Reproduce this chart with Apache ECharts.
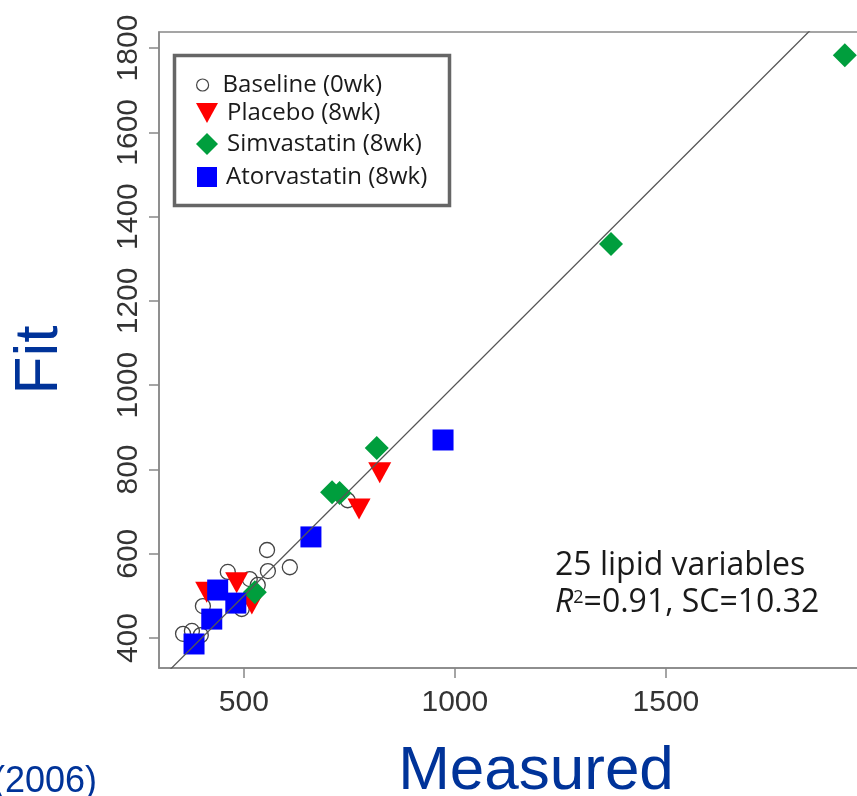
<!DOCTYPE html>
<html><head><meta charset="utf-8">
<script src="https://cdn.jsdelivr.net/npm/echarts@6/dist/echarts.min.js"></script>
<style>html,body{margin:0;padding:0;background:#fff}#c{width:857px;height:796px}</style>
</head><body><div id="c"></div>
<script>
// Axis extents and tick positions
const xRange = [299, 1986];
const yRange = [329, 1838];
const xTicks = [500, 1000, 1500];
const yTicks = [400, 600, 800, 1000, 1200, 1400, 1600, 1800];

// Measured (x) vs fitted (y) values, one list per treatment group
const baseline = [[356,410],[377,417],[398,407],[403,476],[462,557],[514,540],[495,469],[555,609],[557,559],[609,568],[746,727],[533,526]];
const placebo = [[822,792],[773,706],[483,531],[519,481],[412,509]];
const simvastatin = [[1924,1783],[1370,1335],[815,851],[709,746],[727,744],[526,509]];
const atorvastatin = [[382,386],[424,445],[438,514],[481,483],[659,640],[972,870]];
const seriesNames = ['Baseline (0wk)', 'Placebo (8wk)', 'Simvastatin (8wk)', 'Atorvastatin (8wk)'];
// y = x reference line endpoints
const identityLine = [[0, 0], [2500, 2500]];

const BLUE_TEXT = '#003399';
const TICK_FONT = 'Liberation Sans';
const NOTE_FONT = 'Open Sans';
const downTriangle = 'path://M0,0L20,0L10,18Z';

const chart = echarts.init(document.getElementById('c'), null, {renderer: 'canvas'});

function legendRow(name, top, w, h, extra) {
  return Object.assign({
    data: [name], orient: 'vertical', left: 207 - w / 2, top: top - h / 2,
    padding: 0, itemWidth: w, itemHeight: h, selectedMode: false,
    textStyle: {fontFamily: NOTE_FONT, fontSize: 24, color: '#1a1a1a', padding: [0, 0, 0, 4]}
  }, extra || {});
}

const plainLabel = v => String(v);

chart.setOption({
  animation: false,
  grid: {left: 159, top: 32, right: -14, bottom: 128, outerBoundsMode: 'none', containLabel: false,
         show: true, borderColor: '#888', borderWidth: 1.5},
  legend: [
    legendRow(seriesNames[0], 79, 22, 12, {data: [{name: seriesNames[0], icon: 'circle', itemStyle: {color: '#fff', borderColor: '#444', borderWidth: 1.2}}]}),
    legendRow(seriesNames[1], 111, 22, 20),
    legendRow(seriesNames[2], 143, 22, 22),
    legendRow(seriesNames[3], 175, 20, 20)
  ],
  xAxis: {
    type: 'value', min: xRange[0], max: xRange[1],
    splitLine: {show: false},
    axisLine: {show: true, onZero: false, lineStyle: {color: '#888', width: 1.5}},
    axisTick: {show: true, length: 10, customValues: xTicks, lineStyle: {color: '#888', width: 1.5}},
    axisLabel: {customValues: xTicks, formatter: plainLabel, margin: 20, fontFamily: TICK_FONT, fontSize: 30, color: '#333'}
  },
  yAxis: {
    type: 'value', min: yRange[0], max: yRange[1],
    splitLine: {show: false},
    axisLine: {show: true, onZero: false, lineStyle: {color: '#888', width: 1.5}},
    axisTick: {show: true, length: 10, customValues: yTicks, lineStyle: {color: '#888', width: 1.5}},
    axisLabel: {customValues: yTicks, formatter: plainLabel, rotate: 90, margin: 15, fontFamily: TICK_FONT, fontSize: 30, color: '#333'}
  },
  series: [
    {name: seriesNames[0], type: 'scatter', data: baseline, symbol: 'circle', symbolSize: 15,
     itemStyle: {color: 'rgba(255,255,255,0)', borderColor: '#444', borderWidth: 1.3, opacity: 1}, z: 2},
    {name: seriesNames[1], type: 'scatter', data: placebo, symbol: downTriangle, symbolSize: [23, 21],
     itemStyle: {color: '#ff0000', opacity: 1}, z: 3},
    {name: seriesNames[2], type: 'scatter', data: simvastatin, symbol: 'diamond', symbolSize: 24,
     itemStyle: {color: '#009e3d', opacity: 1}, z: 4},
    {name: seriesNames[3], type: 'scatter', data: atorvastatin, symbol: 'rect', symbolSize: 21,
     itemStyle: {color: '#0000ff', opacity: 1}, z: 5},
    {name: 'identity', type: 'line', data: identityLine, symbol: 'none', silent: true, clip: true,
     lineStyle: {color: '#555', width: 1.3}, z: 6}
  ],
  graphic: [
    {type: 'rect', left: 172, top: 53, shape: {width: 275, height: 150},
     style: {fill: 'none', stroke: '#666', lineWidth: 3.5}, z: 10},
    {type: 'text', x: 40, y: 360, rotation: Math.PI / 2,
     style: {text: 'Fit', fontFamily: TICK_FONT, fontSize: 62, fill: BLUE_TEXT, align: 'center', verticalAlign: 'middle'}},
    {type: 'text', x: 536, y: 772,
     style: {text: 'Measured', fontFamily: TICK_FONT, fontSize: 62, fill: BLUE_TEXT, align: 'center', verticalAlign: 'middle'}},
    {type: 'text', x: -7, y: 782,
     style: {text: '(2006)', fontFamily: TICK_FONT, fontSize: 36, fill: BLUE_TEXT, align: 'left', verticalAlign: 'middle'}},
    {type: 'text', x: 555, y: 566,
     style: {text: '25 lipid variables', fontFamily: NOTE_FONT, fontSize: 32, fill: '#1a1a1a', align: 'left', verticalAlign: 'middle'}},
    {type: 'text', x: 555, y: 603,
     style: {text: '{i|R}{s|2}{n|=0.91, SC=10.32}', fontFamily: NOTE_FONT, fontSize: 32, fill: '#1a1a1a', align: 'left', verticalAlign: 'middle',
       rich: {
         i: {fontFamily: NOTE_FONT, fontSize: 32, fontStyle: 'italic', fill: '#1a1a1a'},
         s: {fontFamily: NOTE_FONT, fontSize: 18, fill: '#1a1a1a', verticalAlign: 'top', padding: [2, 0, 0, 0]},
         n: {fontFamily: NOTE_FONT, fontSize: 32, fill: '#1a1a1a'}
       }}}
  ]
});
</script>
</body></html>
